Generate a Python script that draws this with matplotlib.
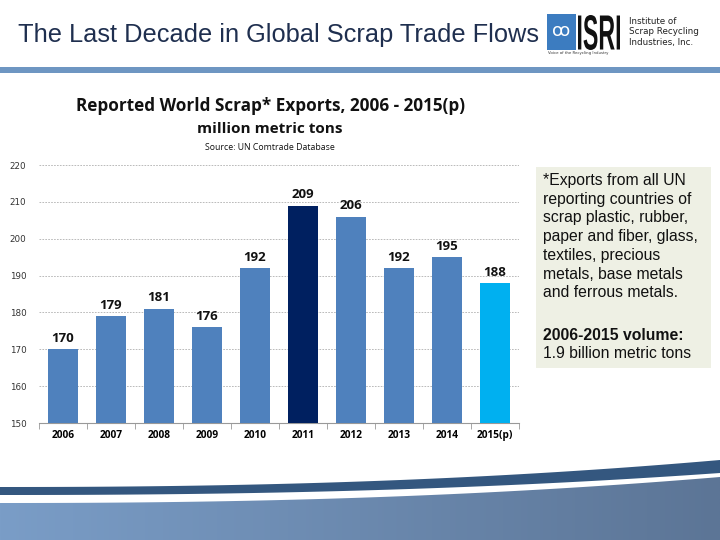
import numpy as np
import matplotlib.pyplot as plt
from matplotlib.patches import Polygon, Rectangle, PathPatch
from matplotlib.textpath import TextPath
from matplotlib.font_manager import FontProperties
from matplotlib.transforms import Affine2D
from matplotlib.colors import LinearSegmentedColormap

years = ['2006', '2007', '2008', '2009', '2010', '2011', '2012', '2013', '2014', '2015(p)']
exports = [170, 179, 181, 176, 192, 209, 206, 192, 195, 188]
bar_colors = ['#4F81BD'] * 10
bar_colors[5] = '#002060'
bar_colors[9] = '#00B0F0'
yticks = [150, 160, 170, 180, 190, 200, 210, 220]

fig = plt.figure(figsize=(7.2, 5.4), dpi=100)

# page decorations in pixel coords
bg = fig.add_axes([0, 0, 1, 1], zorder=0)
bg.set_xlim(0, 720)
bg.set_ylim(540, 0)
bg.axis('off')

bg.text(18, 35, 'The Last Decade in Global Scrap Trade Flows', fontsize=18.3,
        color='#1F2F4F', family='Liberation Sans', va='center', ha='left')
bg.add_patch(Rectangle((0, 67), 720, 6, color='#6E96C2', lw=0))

# logo
bg.add_patch(Rectangle((547, 14), 29, 36, color='#3C7CC0', lw=0))
bg.text(561.5, 31, 'ꝏ', fontsize=13, color='white', ha='center', va='center', family='DejaVu Sans')
tp = TextPath((0, 0), 'ISRI', size=10, prop=FontProperties(family='Liberation Sans', weight='bold'))
ext = tp.get_extents()
sx = 42 / ext.width
sy = 35 / ext.height
tr = Affine2D().translate(-ext.x0, -ext.y0).scale(sx, -sy).translate(578, 50)
bg.add_patch(PathPatch(tr.transform_path(tp), color='#111111', lw=0))
bg.text(548, 53, 'Voice of the Recycling Industry', fontsize=2.8, color='#333333', va='center')
bg.text(629, 32, 'Institute of\nScrap Recycling\nIndustries, Inc.', fontsize=6.3,
        color='#222222', va='center', ha='left', linespacing=1.15)

# bottom wave
xs = np.linspace(0, 720, 200)
t = xs / 720
stripe_top = 487 - 27 * t ** 2.3
stripe_bot = 495 - 22 * t ** 2.3
fill_top = 503 - 26 * t ** 2.3
bg.fill_between(xs, stripe_top, stripe_bot, color='#34577F', lw=0)
grad = np.linspace(0, 1, 256).reshape(1, -1)
img = bg.imshow(np.vstack([grad, grad]), extent=[0, 720, 540, 455], aspect='auto',
                cmap=LinearSegmentedColormap.from_list('w', ['#7A9DC7', '#5C7596']), zorder=1)
poly = Polygon(np.column_stack([np.r_[xs, 720, 0], np.r_[fill_top, 540, 540]]),
               closed=True, transform=bg.transData, facecolor='none', edgecolor='none')
bg.add_patch(poly)
img.set_clip_path(poly)

# note box
bg.add_patch(Rectangle((536, 167), 175, 201, color='#EEF0E4', lw=0))
bg.text(543, 173, '*Exports from all UN\nreporting countries of\nscrap plastic, rubber,\n'
        'paper and fiber, glass,\ntextiles, precious\nmetals, base metals\nand ferrous metals.',
        fontsize=11.3, family='Liberation Sans', color='#111111', va='top', ha='left',
        linespacing=1.31)
bg.text(543, 335, '2006-2015 volume:', fontsize=11.3, family='Liberation Sans',
        weight='bold', color='#111111', va='center')
bg.text(543, 354, '1.9 billion metric tons', fontsize=11.3, family='Liberation Sans',
        color='#111111', va='center')

# chart titles
bg.text(270, 106, 'Reported World Scrap* Exports, 2006 - 2015(p)', fontsize=12.3,
        weight='bold', family='Open Sans', ha='center', va='center', color='#111111')
bg.text(270, 129, 'million metric tons', fontsize=11, weight='bold', family='Open Sans',
        ha='center', va='center', color='#111111')
bg.text(270, 147, 'Source: UN Comtrade Database', fontsize=6.3, family='Open Sans',
        ha='center', va='center', color='#111111')

# chart
ax = fig.add_axes([39 / 720, (540 - 423) / 540, 480 / 720, 258 / 540], zorder=2)
ax.patch.set_alpha(0)
x = np.arange(len(years))
ax.bar(x, exports, width=0.62, color=bar_colors, zorder=3)
for xi, v in zip(x, exports):
    ax.text(xi, v + 1.2, str(v), ha='center', va='bottom', fontsize=9.5, weight='bold',
            family='Open Sans', color='#111111')
ax.set_ylim(150, 220)
ax.set_xlim(-0.5, len(years) - 0.5)
ax.set_yticks(yticks)
ax.set_yticklabels([str(v) for v in yticks], fontsize=6.3, color='#333333')
ax.yaxis.grid(True, linestyle=(0, (2, 1.5)), color='#B0B0B0', lw=0.6, zorder=0)
ax.tick_params(axis='y', length=0, pad=9)
ax.set_xticks(x)
ax.set_xticklabels(years, fontsize=7.3, weight='bold', family='Open Sans')
ax.set_xticks(np.arange(-0.5, len(years)), minor=True)
ax.tick_params(axis='x', which='major', length=0, pad=5)
ax.tick_params(axis='x', which='minor', length=4, color='#999999')
for s in ['top', 'right', 'left']:
    ax.spines[s].set_visible(False)
ax.spines['bottom'].set_color('#999999')

fig.savefig('out.png', dpi=100)
